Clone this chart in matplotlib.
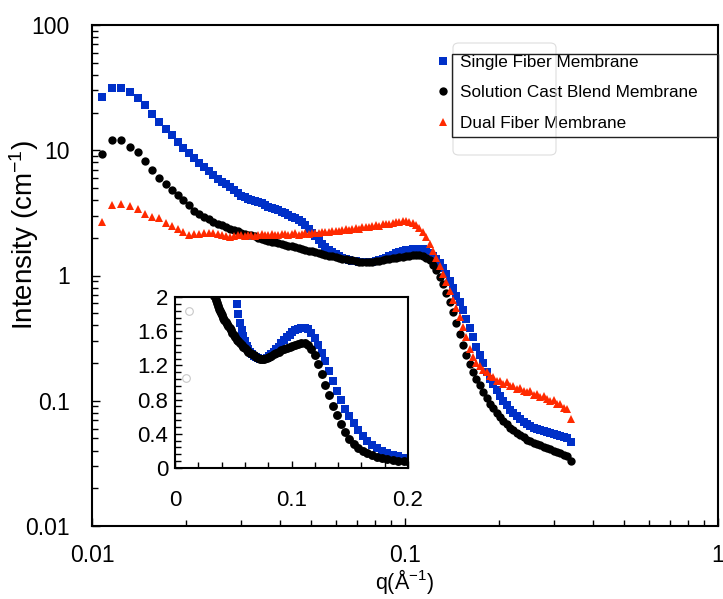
import numpy as np
import matplotlib
matplotlib.use("Agg")
import matplotlib.pyplot as plt
from matplotlib.patches import Rectangle, FancyBboxPatch
from matplotlib.ticker import FixedLocator, MultipleLocator, LogLocator, FuncFormatter, NullFormatter

plt.rcParams["font.family"] = ["Liberation Sans", "DejaVu Sans"]
plt.rcParams["mathtext.fontset"] = "custom"
plt.rcParams["mathtext.rm"] = "Liberation Sans"
plt.rcParams["mathtext.it"] = "Liberation Sans"

# q values (1/A), shared by the three membranes
q = [
    0.0108, 0.0116, 0.0124, 0.0132, 0.0140, 0.0148, 0.0156, 0.0164, 0.0172, 0.0180,
    0.0188, 0.0196, 0.0204, 0.0212, 0.0220, 0.0228, 0.0236, 0.0244, 0.0252, 0.0260,
    0.0268, 0.0276, 0.0284, 0.0292,
    0.0300, 0.0308, 0.0315, 0.0323, 0.0331, 0.0339, 0.0348, 0.0357, 0.0366, 0.0375,
    0.0384, 0.0394, 0.0404, 0.0414, 0.0424, 0.0435, 0.0446, 0.0457, 0.0468, 0.0480,
    0.0492, 0.0504, 0.0517, 0.0530, 0.0543, 0.0557, 0.0571, 0.0585, 0.0600, 0.0615,
    0.0630, 0.0646, 0.0662, 0.0679, 0.0696, 0.0713, 0.0731, 0.0749, 0.0768, 0.0787,
    0.0807, 0.0827, 0.0848, 0.0869, 0.0890, 0.0913, 0.0936, 0.0959, 0.0983, 0.1008,
    0.1033, 0.1059, 0.1085, 0.1112, 0.1140, 0.1169, 0.1198, 0.1228, 0.1258, 0.1290,
    0.1322, 0.1355, 0.1389, 0.1424, 0.1459, 0.1496, 0.1533, 0.1572, 0.1611, 0.1651,
    0.1692, 0.1735, 0.1778, 0.1823, 0.1868, 0.1915, 0.1963, 0.2012, 0.2062, 0.2114,
    0.2167, 0.2221, 0.2276, 0.2333, 0.2392, 0.2451, 0.2513, 0.2576, 0.2640, 0.2706,
    0.2774, 0.2843, 0.2914, 0.2987, 0.3062, 0.3138, 0.3217, 0.3297, 0.3380]

single_fiber = [
    26.5, 31.5, 31.5, 29.2, 26.3, 22.8, 19.4, 16.9, 14.8, 13.2,
    11.6, 10.5, 9.5, 8.7, 7.9, 7.3, 6.8, 6.35, 5.9, 5.6,
    5.35, 5.1, 4.8, 4.55,
    4.35, 4.2, 4.1, 4.02, 3.95, 3.88, 3.78, 3.66, 3.55, 3.45,
    3.38, 3.32, 3.24, 3.15, 3.04, 2.95, 2.86, 2.76, 2.66, 2.52,
    2.36, 2.2, 2.05, 1.92, 1.8, 1.7, 1.61, 1.54, 1.48, 1.43,
    1.39, 1.36, 1.33, 1.31, 1.3, 1.29, 1.28, 1.28, 1.28, 1.29,
    1.31, 1.33, 1.36, 1.39, 1.42, 1.46, 1.5, 1.53, 1.56, 1.59,
    1.61, 1.63, 1.64, 1.64, 1.62, 1.58, 1.52, 1.44, 1.35, 1.25,
    1.14, 1.02, 0.9, 0.79, 0.69, 0.61, 0.53, 0.45, 0.38, 0.32,
    0.27, 0.23, 0.2, 0.17, 0.15, 0.135, 0.122, 0.11, 0.1, 0.092,
    0.085, 0.08, 0.075, 0.071, 0.068, 0.065, 0.063, 0.061, 0.06, 0.058,
    0.057, 0.056, 0.055, 0.054, 0.053, 0.052, 0.051, 0.05, 0.047]

solution_cast = [
    9.4, 12.0, 12.0, 10.6, 9.6, 8.2, 7.0, 6.0, 5.4, 4.85,
    4.4, 4.0, 3.65, 3.3, 3.1, 2.93, 2.8, 2.68, 2.6, 2.54,
    2.45, 2.37, 2.3, 2.25,
    2.2, 2.15, 2.12, 2.09, 2.05, 2.01, 1.97, 1.93, 1.89, 1.86,
    1.84, 1.81, 1.79, 1.76, 1.73, 1.71, 1.69, 1.66, 1.64, 1.61,
    1.58, 1.56, 1.53, 1.5, 1.48, 1.46, 1.44, 1.42, 1.4, 1.38,
    1.36, 1.35, 1.33, 1.32, 1.3, 1.29, 1.28, 1.28, 1.28, 1.29,
    1.3, 1.31, 1.33, 1.35, 1.36, 1.38, 1.39, 1.4, 1.41, 1.43,
    1.44, 1.45, 1.46, 1.46, 1.44, 1.39, 1.32, 1.22, 1.1, 0.97,
    0.85, 0.73, 0.62, 0.51, 0.42, 0.34, 0.28, 0.23, 0.195, 0.17,
    0.15, 0.133, 0.118, 0.105, 0.095, 0.087, 0.08, 0.074, 0.069, 0.065,
    0.061, 0.058, 0.055, 0.053, 0.051, 0.049, 0.048, 0.046, 0.045, 0.044,
    0.043, 0.042, 0.041, 0.04, 0.039, 0.038, 0.037, 0.036, 0.033]

dual_fiber = [
    2.65, 3.65, 3.75, 3.6, 3.4, 3.1, 2.95, 2.9, 2.62, 2.5,
    2.36, 2.22, 2.12, 2.15, 2.16, 2.2, 2.18, 2.2, 2.15, 2.12,
    2.06, 2.04, 2.08, 2.12,
    2.1, 2.06, 2.1, 2.12, 2.08, 2.1, 2.14, 2.1, 2.12, 2.16,
    2.12, 2.09, 2.13, 2.16, 2.11, 2.14, 2.17, 2.12, 2.15, 2.18,
    2.14, 2.17, 2.2, 2.17, 2.21, 2.24, 2.21, 2.25, 2.28, 2.26,
    2.3, 2.33, 2.31, 2.36, 2.39, 2.37, 2.42, 2.45, 2.43, 2.48,
    2.52, 2.5, 2.56, 2.6, 2.58, 2.64, 2.67, 2.66, 2.7, 2.7,
    2.68, 2.62, 2.52, 2.38, 2.22, 2.02, 1.8, 1.57, 1.38, 1.2,
    1.03, 0.88, 0.75, 0.64, 0.55, 0.47, 0.39, 0.32, 0.26, 0.225,
    0.2, 0.19, 0.175, 0.17, 0.158, 0.155, 0.145, 0.143, 0.137, 0.14,
    0.132, 0.13, 0.124, 0.127, 0.12, 0.117, 0.12, 0.112, 0.113, 0.107,
    0.11, 0.103, 0.1, 0.102, 0.095, 0.094, 0.088, 0.086, 0.072]

# two faint open circles left in the inset
ghost_q = [0.012, 0.0095]
ghost_I = [1.84, 1.05]

labels = ["Single Fiber Membrane", "Solution Cast Blend Membrane", "Dual Fiber Membrane"]

blue = "#0030c8"
red = "#ff2a00"

fig = plt.figure(figsize=(7.23, 5.99), dpi=100)
W, H = 723, 599
ax = fig.add_axes([92 / W, 1 - 526 / H, 626 / W, 501 / H])

l1, = ax.plot(q, single_fiber, ls="none", marker="s", ms=5.2, mew=0, color=blue)
l2, = ax.plot(q, solution_cast, ls="none", marker="o", ms=6.0, mew=0, color="black")
l3, = ax.plot(q, dual_fiber, ls="none", marker="^", ms=6.4, mew=0, color=red)

ax.set_xscale("log")
ax.set_yscale("log")
ax.set_xlim(0.01, 1)
ax.set_ylim(0.01, 100)
fmt = FuncFormatter(lambda v, p: "%g" % v)
ax.xaxis.set_major_formatter(fmt)
ax.yaxis.set_major_formatter(fmt)
ax.xaxis.set_minor_locator(LogLocator(subs=np.arange(2, 10)))
ax.yaxis.set_minor_locator(LogLocator(subs=np.arange(2, 10)))
ax.xaxis.set_minor_formatter(NullFormatter())
ax.yaxis.set_minor_formatter(NullFormatter())
ax.tick_params(which="both", direction="in", top=False, right=False, width=1, labelsize=16.5)
ax.tick_params(which="major", length=6)
ax.tick_params(which="minor", length=4)
ax.tick_params(axis="y", pad=16)
ax.tick_params(axis="x", pad=13)
for s in ax.spines.values():
    s.set_linewidth(1.5)

ax.set_xlabel(r"q(Å$^{-1}$)", fontsize=15.5, labelpad=0)
ax.set_ylabel(r"Intensity (cm$^{-1}$)", fontsize=20)
ax.yaxis.set_label_coords(-0.082, 0.58)

# legend: markers outside a plain box
leg = ax.legend([l1, l2, l3], labels, loc="upper left",
                bbox_to_anchor=(434 / W, 1 - 55 / H), bbox_transform=fig.transFigure,
                frameon=False, fontsize=12.3, handlelength=1.0, handletextpad=0.55,
                labelspacing=0.9, borderpad=0, borderaxespad=0, markerscale=1.0)
fig.patches.append(FancyBboxPatch((453 / W, 1 - 155 / H), 103 / W, 112 / H,
                                  boxstyle="round,pad=0,rounding_size=0.008",
                                  transform=fig.transFigure, fill=False,
                                  ec="#dddddd", lw=0.8, zorder=0))
fig.patches.append(Rectangle((452 / W, 1 - 137 / H), 266 / W, 83 / H,
                             transform=fig.transFigure, fill=False, ec="#222222",
                             lw=1.0, zorder=5))

# inset, linear axes
axi = fig.add_axes([175 / W, 1 - 468 / H, 233 / W, 171 / H])
axi.plot(q, single_fiber, ls="none", marker="s", ms=5.8, mew=0, color=blue)
axi.plot(q, solution_cast, ls="none", marker="o", ms=6.4, mew=0, color="black")
axi.plot(ghost_q, ghost_I, ls="none", marker="o", ms=5.5, mfc="none", mec="#c8c8c8", mew=0.8)
axi.set_xlim(0, 0.2)
axi.set_ylim(0, 2)
axi.xaxis.set_major_locator(FixedLocator([0, 0.1, 0.2]))
axi.xaxis.set_minor_locator(MultipleLocator(0.02))
axi.yaxis.set_major_locator(MultipleLocator(0.4))
axi.yaxis.set_minor_locator(MultipleLocator(0.08))
axi.xaxis.set_major_formatter(fmt)
axi.yaxis.set_major_formatter(fmt)
axi.tick_params(which="both", direction="in", width=1, labelsize=16)
axi.tick_params(which="major", length=5)
axi.tick_params(which="minor", length=4)
axi.tick_params(axis="x", pad=16)
axi.tick_params(axis="y", pad=5)
for s in axi.spines.values():
    s.set_linewidth(1.5)

fig.savefig("out.png", dpi=100)
plt.close(fig)
